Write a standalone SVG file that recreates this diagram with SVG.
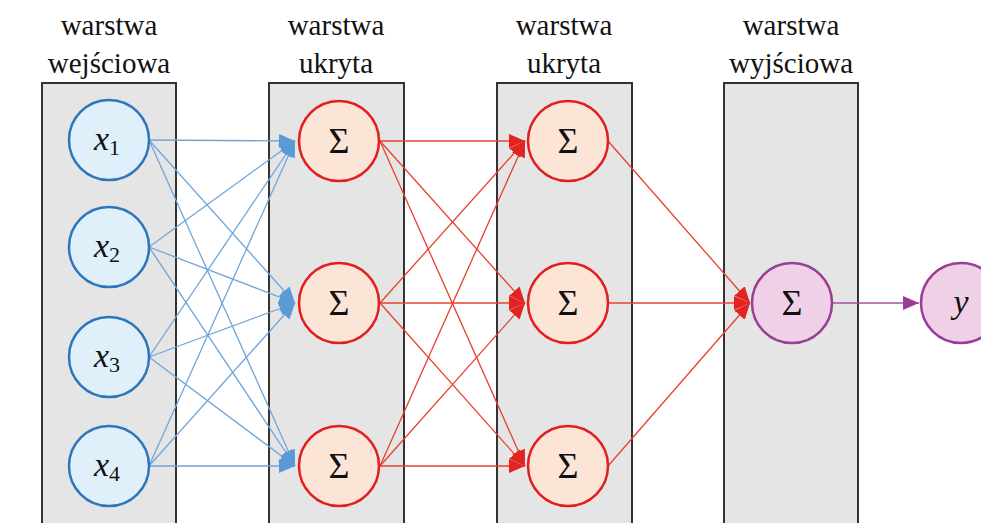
<svg xmlns="http://www.w3.org/2000/svg" width="981" height="523" viewBox="0 0 981 523">
<defs>
<style>
.layer{fill:#e5e5e5;stroke:#333;stroke-width:2}
.hdr{font-size:29px;fill:#111;text-anchor:middle}
.inp{fill:#dff0fa;stroke:#2d76bb;stroke-width:2.5}
.hid{fill:#fce4d6;stroke:#e21f1f;stroke-width:2.5}
.out{fill:#efd0e6;stroke:#9a3d96;stroke-width:2.5}
.math{font-size:34px;fill:#111;text-anchor:middle;font-style:italic}
.sub{font-style:normal;font-size:22px}
.sig{font-size:36px;fill:#111;text-anchor:middle}
.eb{stroke:#6fa5d9;stroke-width:1.3;fill:none;marker-end:url(#ab)}
.er{stroke:#e8402f;stroke-width:1.3;fill:none;marker-end:url(#ar)}
.ep{stroke:#a050a0;stroke-width:1.5;fill:none;marker-end:url(#ap)}
</style>
<marker id="ab" markerUnits="userSpaceOnUse" markerWidth="18" markerHeight="16" refX="16" refY="7" orient="auto"><path d="M0,0 L16,7 L0,14 Z" fill="#5b9bd5"/></marker>
<marker id="ar" markerUnits="userSpaceOnUse" markerWidth="18" markerHeight="16" refX="16" refY="7" orient="auto"><path d="M0,0 L16,7 L0,14 Z" fill="#e32222"/></marker>
<marker id="ap" markerUnits="userSpaceOnUse" markerWidth="18" markerHeight="16" refX="16" refY="7" orient="auto"><path d="M0,0 L16,7 L0,14 Z" fill="#9a3d96"/></marker>
</defs>
<rect width="981" height="523" fill="#fff"/>
<g id="layers">
<rect class="layer" x="42" y="83" width="134" height="450"/>
<rect class="layer" x="269" y="83" width="135" height="450"/>
<rect class="layer" x="497" y="83" width="135" height="450"/>
<rect class="layer" x="724" y="83" width="134" height="450"/>
</g>
<g id="headers" font-family="Liberation Serif, DejaVu Serif, serif">
<text class="hdr" x="109" y="35">warstwa</text>
<text class="hdr" x="109" y="73">wejściowa</text>
<text class="hdr" x="336" y="35">warstwa</text>
<text class="hdr" x="336" y="73">ukryta</text>
<text class="hdr" x="564" y="35">warstwa</text>
<text class="hdr" x="564" y="73">ukryta</text>
<text class="hdr" x="791" y="35">warstwa</text>
<text class="hdr" x="791" y="73">wyjściowa</text>
</g>
<g id="connectors">
<line class="eb" x1="149" y1="140" x2="295" y2="141"/>
<line class="eb" x1="149" y1="140" x2="295" y2="303"/>
<line class="eb" x1="149" y1="140" x2="295" y2="466"/>
<line class="eb" x1="149" y1="247" x2="295" y2="141"/>
<line class="eb" x1="149" y1="247" x2="295" y2="303"/>
<line class="eb" x1="149" y1="247" x2="295" y2="466"/>
<line class="eb" x1="149" y1="357" x2="295" y2="141"/>
<line class="eb" x1="149" y1="357" x2="295" y2="303"/>
<line class="eb" x1="149" y1="357" x2="295" y2="466"/>
<line class="eb" x1="149" y1="466" x2="295" y2="141"/>
<line class="eb" x1="149" y1="466" x2="295" y2="303"/>
<line class="eb" x1="149" y1="466" x2="295" y2="466"/>
<line class="er" x1="380" y1="141" x2="525" y2="141"/>
<line class="er" x1="380" y1="141" x2="525" y2="303"/>
<line class="er" x1="380" y1="141" x2="525" y2="466"/>
<line class="er" x1="380" y1="303" x2="525" y2="141"/>
<line class="er" x1="380" y1="303" x2="525" y2="303"/>
<line class="er" x1="380" y1="303" x2="525" y2="466"/>
<line class="er" x1="380" y1="466" x2="525" y2="141"/>
<line class="er" x1="380" y1="466" x2="525" y2="303"/>
<line class="er" x1="380" y1="466" x2="525" y2="466"/>
<line class="er" x1="608" y1="141" x2="750" y2="303"/>
<line class="er" x1="608" y1="303" x2="750" y2="303"/>
<line class="er" x1="608" y1="466" x2="750" y2="303"/>
<line class="ep" x1="832" y1="303" x2="919" y2="303"/>
</g>
<g font-family="Liberation Serif, DejaVu Serif, serif">
<g id="x1"><circle class="inp" cx="109" cy="140" r="40"/><text class="math" x="107" y="150">x<tspan class="sub" dy="5">1</tspan></text></g>
<g id="x2"><circle class="inp" cx="109" cy="247" r="40"/><text class="math" x="107" y="257">x<tspan class="sub" dy="5">2</tspan></text></g>
<g id="x3"><circle class="inp" cx="109" cy="357" r="40"/><text class="math" x="107" y="367">x<tspan class="sub" dy="5">3</tspan></text></g>
<g id="x4"><circle class="inp" cx="109" cy="466" r="40"/><text class="math" x="107" y="476">x<tspan class="sub" dy="5">4</tspan></text></g>
<g id="h1a"><circle class="hid" cx="339" cy="141" r="40"/><text class="sig" x="339" y="153">Σ</text></g>
<g id="h1b"><circle class="hid" cx="339" cy="303" r="40"/><text class="sig" x="339" y="315">Σ</text></g>
<g id="h1c"><circle class="hid" cx="339" cy="466" r="40"/><text class="sig" x="339" y="478">Σ</text></g>
<g id="h2a"><circle class="hid" cx="568" cy="141" r="40"/><text class="sig" x="568" y="153">Σ</text></g>
<g id="h2b"><circle class="hid" cx="568" cy="303" r="40"/><text class="sig" x="568" y="315">Σ</text></g>
<g id="h2c"><circle class="hid" cx="568" cy="466" r="40"/><text class="sig" x="568" y="478">Σ</text></g>
<g id="out"><circle class="out" cx="792" cy="303" r="40"/><text class="sig" x="792" y="315">Σ</text></g>
<g id="y"><circle class="out" cx="961" cy="303" r="40"/><text class="math" x="961" y="313">y</text></g>
</g>
</svg>
